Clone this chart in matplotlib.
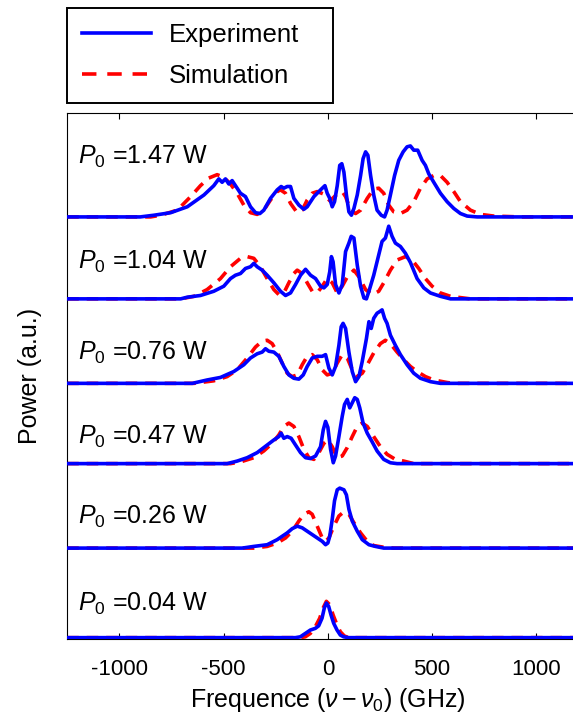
import matplotlib.pyplot as plt
from matplotlib.lines import Line2D

plt.rcParams['font.family'] = ['Liberation Sans', 'DejaVu Sans']
plt.rcParams['mathtext.fontset'] = 'custom'
plt.rcParams['mathtext.rm'] = 'Liberation Sans'
plt.rcParams['mathtext.it'] = 'Liberation Sans:italic'
plt.rcParams['axes.unicode_minus'] = False

# pump powers, from bottom to top
powers = ['0.04', '0.26', '0.47', '0.76', '1.04', '1.47']

# measured spectra (frequency in GHz, power in a.u.)
exp_004_f = [-1250, -156, -132, -108, -84, -60, -44, -28, -17, -7, 4, 15, 28, 44, 60, 76, 100, 1250]
exp_004_p = [0, 0, 0.01, 0.05, 0.09, 0.11, 0.14, 0.23, 0.35, 0.41, 0.37, 0.27, 0.17, 0.09, 0.03, 0.01, 0, 0]

exp_026_f = [-1250, -411, -355, -291, -243, -219, -195, -171, -147, -123, -99, -75, -51, -27, -11, 0, 9,
             21, 32, 45, 57, 77, 89, 101, 117, 141, 165, 197, 228, 268, 1250]
exp_026_p = [0, 0, 0.02, 0.04, 0.10, 0.14, 0.18, 0.23, 0.26, 0.24, 0.20, 0.16, 0.12, 0.08, 0.04, 0.06, 0.14,
             0.34, 0.56, 0.69, 0.71, 0.69, 0.63, 0.46, 0.32, 0.20, 0.10, 0.04, 0.02, 0, 0]

exp_047_f = [-1250, -483, -435, -387, -339, -291, -259, -235, -224, -211, -195, -176, -155, -131, -107, -83,
             -59, -35, -22, -11, 0, 13, 26, 37, 53, 69, 80, 93, 105, 117, 129, 141, 153, 169, 189, 212,
             236, 268, 300, 332, 1250]
exp_047_p = [0, 0, 0.03, 0.07, 0.13, 0.22, 0.28, 0.32, 0.36, 0.30, 0.32, 0.30, 0.22, 0.13, 0.07, 0.06,
             0.09, 0.20, 0.40, 0.50, 0.43, 0.17, 0.01, 0.09, 0.32, 0.56, 0.70, 0.76, 0.66, 0.72, 0.78, 0.76,
             0.66, 0.48, 0.36, 0.26, 0.15, 0.05, 0.01, 0, 0]

exp_076_f = [-1250, -650, -579, -515, -451, -403, -371, -339, -315, -299, -283, -259, -235, -211, -187, -163,
             -139, -118, -99, -75, -51, -27, -11, 5, 21, 37, 53, 64, 73, 85, 101, 117, 133, 149, 165, 185,
             197, 208, 220, 236, 249, 260, 272, 284, 300, 324, 348, 380, 412, 444, 492, 540, 1250]
exp_076_p = [0, 0, 0.04, 0.07, 0.14, 0.22, 0.30, 0.35, 0.37, 0.41, 0.38, 0.37, 0.32, 0.20, 0.10, 0.06,
             0.05, 0.10, 0.20, 0.30, 0.32, 0.32, 0.34, 0.18, 0.10, 0.20, 0.45, 0.67, 0.71, 0.65, 0.37, 0.14,
             0.02, 0.08, 0.26, 0.53, 0.73, 0.65, 0.77, 0.83, 0.85, 0.87, 0.77, 0.71, 0.57, 0.45, 0.34, 0.22,
             0.12, 0.06, 0.02, 0, 0]

exp_104_f = [-1250, -706, -674, -611, -547, -499, -467, -443, -419, -395, -371, -355, -339, -315, -291, -259,
             -227, -203, -179, -155, -131, -107, -83, -59, -35, -19, -3, 9, 17, 25, 37, 53, 69, 85, 101,
             112, 125, 141, 157, 173, 185, 197, 220, 244, 260, 276, 292, 308, 324, 348, 372, 396, 428, 460,
             492, 540, 588, 1250]
exp_104_p = [0, 0, 0.02, 0.04, 0.09, 0.15, 0.24, 0.28, 0.30, 0.36, 0.38, 0.42, 0.38, 0.34, 0.28, 0.19,
             0.09, 0.04, 0.07, 0.17, 0.28, 0.35, 0.28, 0.24, 0.15, 0.13, 0.17, 0.32, 0.50, 0.44, 0.17, 0.07,
             0.17, 0.56, 0.66, 0.74, 0.72, 0.40, 0.15, 0.01, 0, 0.09, 0.28, 0.52, 0.68, 0.72, 0.86, 0.74,
             0.66, 0.62, 0.54, 0.43, 0.24, 0.13, 0.07, 0.03, 0, 0]

exp_147_f = [-1250, -900, -834, -754, -674, -594, -547, -523, -507, -491, -475, -459, -443, -419, -395, -371,
             -347, -326, -307, -275, -243, -224, -211, -195, -179, -163, -139, -115, -99, -67, -35, -14, -3,
             9, 21, 32, 45, 57, 67, 77, 89, 101, 113, 125, 141, 157, 169, 181, 192, 205, 220, 236, 256, 272,
             284, 300, 320, 340, 361, 380, 396, 412, 431, 452, 468, 484, 508, 540, 572, 604, 636, 668, 716,
             1250]
exp_147_p = [0, 0, 0.02, 0.05, 0.12, 0.26, 0.37, 0.45, 0.41, 0.45, 0.39, 0.43, 0.37, 0.28, 0.24, 0.12,
             0.05, 0.04, 0.08, 0.22, 0.32, 0.36, 0.34, 0.36, 0.36, 0.22, 0.14, 0.09, 0.12, 0.24, 0.32, 0.37,
             0.28, 0.22, 0.12, 0.18, 0.37, 0.61, 0.63, 0.53, 0.26, 0.06, 0.02, 0.10, 0.26, 0.49, 0.69, 0.77,
             0.73, 0.49, 0.26, 0.08, 0.02, 0, 0.08, 0.26, 0.49, 0.67, 0.77, 0.83, 0.84, 0.79, 0.79, 0.67,
             0.61, 0.51, 0.41, 0.28, 0.18, 0.10, 0.04, 0.01, 0, 0]

# simulated spectra
sim_004_f = [-1250, -132, -108, -84, -60, -39, -23, -7, 9, 25, 44, 60, 79, 100, 1250]
sim_004_p = [0, 0, 0.01, 0.05, 0.13, 0.23, 0.35, 0.43, 0.39, 0.27, 0.15, 0.07, 0.02, 0, 0]

sim_026_f = [-1250, -403, -355, -291, -243, -203, -171, -139, -115, -91, -75, -51, -27, -11, 5, 29, 53, 77,
             101, 125, 157, 189, 220, 268, 316, 1250]
sim_026_p = [0, 0, 0.0, 0.02, 0.06, 0.12, 0.20, 0.32, 0.40, 0.43, 0.40, 0.26, 0.12, 0.08, 0.12, 0.26, 0.38,
             0.43, 0.40, 0.30, 0.18, 0.08, 0.03, 0.01, 0, 0]

sim_047_f = [-1250, -467, -419, -355, -307, -267, -235, -211, -187, -163, -139, -115, -91, -67, -43, -19, 0,
             21, 45, 69, 93, 117, 141, 165, 189, 220, 252, 284, 324, 364, 412, 1250]
sim_047_p = [0, 0, 0.02, 0.07, 0.15, 0.24, 0.34, 0.44, 0.48, 0.44, 0.32, 0.17, 0.07, 0.05, 0.13, 0.24, 0.28,
             0.20, 0.07, 0.09, 0.19, 0.32, 0.44, 0.48, 0.44, 0.32, 0.20, 0.11, 0.05, 0.03, 0, 0]

sim_076_f = [-1250, -642, -547, -483, -435, -387, -347, -315, -291, -267, -243, -219, -195, -171, -147, -123,
             -99, -75, -51, -27, -3, 21, 45, 69, 93, 117, 141, 165, 189, 220, 252, 276, 300, 332, 364, 396,
             428, 468, 508, 572, 604, 1250]
sim_076_p = [0, 0, 0.03, 0.08, 0.16, 0.30, 0.43, 0.50, 0.51, 0.47, 0.37, 0.24, 0.12, 0.08, 0.10, 0.22,
             0.32, 0.34, 0.28, 0.16, 0.10, 0.12, 0.24, 0.34, 0.30, 0.16, 0.08, 0.12, 0.22, 0.36, 0.47, 0.51,
             0.47, 0.37, 0.28, 0.20, 0.14, 0.08, 0.04, 0.01, 0, 0]

sim_104_f = [-1250, -706, -642, -579, -515, -467, -419, -387, -355, -323, -291, -259, -235, -211, -187, -163,
             -147, -123, -99, -75, -51, -27, -3, 21, 45, 69, 93, 125, 149, 181, 212, 244, 268, 300, 332, 372,
             404, 436, 468, 500, 540, 588, 684, 1250]
sim_104_p = [0, 0, 0.03, 0.11, 0.24, 0.38, 0.48, 0.50, 0.48, 0.38, 0.24, 0.11, 0.05, 0.07, 0.19, 0.30,
             0.34, 0.30, 0.19, 0.09, 0.07, 0.15, 0.24, 0.19, 0.07, 0.15, 0.26, 0.34, 0.26, 0.11, 0.05, 0.09,
             0.19, 0.34, 0.46, 0.50, 0.46, 0.36, 0.24, 0.15, 0.07, 0.03, 0, 0]

sim_147_f = [-1250, -850, -802, -722, -658, -611, -571, -531, -499, -467, -435, -403, -371, -339, -307, -275,
             -243, -227, -203, -179, -147, -123, -99, -75, -51, -19, 10, 40, 69, 85, 109, 133, 157, 189, 220,
             244, 268, 292, 316, 348, 380, 412, 444, 476, 508, 540, 572, 604, 636, 684, 732, 796, 924, 1250]
sim_147_p = [0, 0, 0.02, 0.08, 0.24, 0.37, 0.46, 0.50, 0.47, 0.39, 0.28, 0.14, 0.05, 0.03, 0.08, 0.20,
             0.30, 0.32, 0.28, 0.16, 0.05, 0.08, 0.20, 0.28, 0.30, 0.27, 0.19, 0.26, 0.30, 0.24, 0.08, 0.04,
             0.08, 0.22, 0.33, 0.34, 0.28, 0.14, 0.06, 0.04, 0.08, 0.18, 0.34, 0.45, 0.49, 0.49, 0.41, 0.30,
             0.18, 0.08, 0.03, 0.01, 0, 0]

experiment = [(exp_004_f, exp_004_p), (exp_026_f, exp_026_p), (exp_047_f, exp_047_p),
              (exp_076_f, exp_076_p), (exp_104_f, exp_104_p), (exp_147_f, exp_147_p)]
simulation = [(sim_004_f, sim_004_p), (sim_026_f, sim_026_p), (sim_047_f, sim_047_p),
              (sim_076_f, sim_076_p), (sim_104_f, sim_104_p), (sim_147_f, sim_147_p)]

# vertical shift of each trace and height of its label
offsets = [0, 1.06, 2.06, 3.01, 4.01, 4.98]
label_y = [0.32, 1.35, 2.29, 3.29, 4.36, 5.61]

fig = plt.figure(figsize=(5.73, 7.13), dpi=100)
ax = fig.add_axes([67.2 / 573, 74.5 / 713, 521.3 / 573, 525.5 / 713])

red_dash = (3.2, 2.2)
for i in range(len(powers)):
    sf, sp = simulation[i]
    ef, ep = experiment[i]
    ax.plot(sf, [v + offsets[i] for v in sp], color='red', lw=2.6, dashes=red_dash, zorder=2)
    ax.plot(ef, [v + offsets[i] for v in ep], color='blue', lw=2.6, zorder=3)
    ax.text(-1200, label_y[i], '$P_0$ =' + powers[i] + ' W', fontsize=18, va='baseline', ha='left')

ax.set_xlim(-1250, 1250)
ax.set_ylim(-0.01, 6.21)
ax.set_xticks([-1000, -500, 0, 500, 1000])
ax.set_yticks([])
ax.tick_params(axis='x', direction='in', top=True, length=4, labelsize=16, pad=15)
ax.set_xlabel(r'Frequence ($\nu-\nu_0$) (GHz)', fontsize=18, labelpad=4)
ax.set_ylabel('Power (a.u.)', fontsize=18, labelpad=18)

handles = [Line2D([], [], color='blue', lw=2.6),
           Line2D([], [], color='red', lw=2.6, dashes=(4, 3))]
leg = fig.legend(handles, ['Experiment', 'Simulation'], loc='upper left', mode='expand',
                 bbox_to_anchor=(67 / 573, 1 - 102 / 713, 266 / 573, 94 / 713), fontsize=18.5,
                 frameon=True, fancybox=False, edgecolor='black', framealpha=1, handlelength=2.7,
                 handletextpad=0.7, labelspacing=0.67, borderpad=0.57, borderaxespad=0)
leg.get_frame().set_linewidth(1.4)

fig.savefig('out.png', dpi=100)
